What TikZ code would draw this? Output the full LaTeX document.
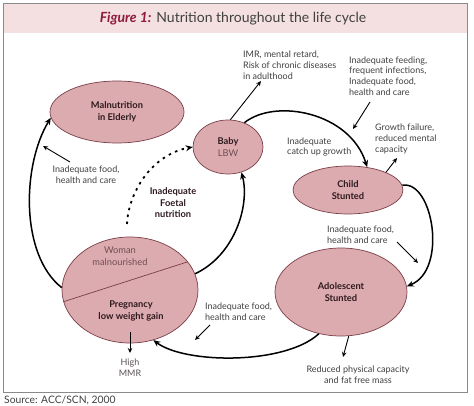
\documentclass[tikz,border=0pt]{standalone}
\usepackage{fontspec}
\setmainfont{Lato}
\usetikzlibrary{shapes.geometric,arrows.meta}
\definecolor{ellfill}{HTML}{DCABAF}
\definecolor{elldraw}{HTML}{7A3E48}
\definecolor{band}{HTML}{F4E0E1}
\definecolor{framec}{HTML}{8A8A8A}
\definecolor{titlered}{HTML}{8E1B3E}
\definecolor{txt}{HTML}{404040}
\definecolor{dark}{HTML}{2E1A1E}
\definecolor{soft}{HTML}{6E5054}
\definecolor{grey}{HTML}{5C5254}
\begin{document}
\begin{tikzpicture}[x=1pt,y=-1pt,
 ell/.style={ellipse, draw=elldraw, fill=ellfill, line width=0.7pt, inner sep=0pt, align=center,
   font=\fontsize{9.3}{11.5}\selectfont\bfseries, text=dark},
 lbl/.style={font=\fontsize{9}{10.8}\selectfont, text=txt, inner sep=0pt},
 flow/.style={line width=1.5pt, -{Stealth[length=7pt,width=6pt]}},
 note/.style={line width=0.9pt, -{Stealth[length=5pt,width=4.5pt]}}]
\useasboundingbox (0,0) rectangle (474,406);
\fill[band] (3.5,3.5) rectangle (467,33);
\draw[framec, line width=1pt] (3.5,3.5) rectangle (467,392);
\node[font=\fontsize{14}{16}\selectfont, text=txt] (title) at (233,19)
  {\textcolor{titlered}{\bfseries\itshape Figure 1:} Nutrition throughout the life cycle};
\node[font=\fontsize{10.3}{12}\selectfont, text=txt, anchor=west, inner sep=0pt] (src) at (4,400) {Source: ACC/SCN, 2000};

% ellipses
\node[ell, minimum width=134pt, minimum height=62pt] (e) at (117,112) {Malnutrition\\in Elderly};
\node[ell, minimum width=70pt, minimum height=54pt] (b) at (228,147) {Baby\\{\mdseries\color{soft}LBW}};
\node[ell, minimum width=110pt, minimum height=48pt] (c) at (348,190) {Child\\Stunted};
\node[ell, minimum width=132pt, minimum height=88pt] (a) at (341,292) {Adolescent\\Stunted};
\node[ell, minimum width=136pt, minimum height=106pt] (w) at (130,290) {};
\draw[elldraw, line width=0.7pt] (w.190) -- (w.26);
\node[font=\fontsize{9.3}{12}\selectfont, text=soft, align=center] (wm) at (120,256) {Woman\\malnourished};
\node[font=\fontsize{9.3}{12}\selectfont\bfseries, text=dark, align=center] (pg) at (131,311) {Pregnancy\\low weight gain};

% labels
\node[lbl, align=left, anchor=west] (imr) at (243,65) {IMR, mental retard,\\Risk of chronic diseases\\in adulthood};
\node[lbl, align=left, anchor=west] (feed) at (349,76) {Inadequate feeding,\\frequent infections,\\Inadequate food,\\health and care};
\node[lbl, align=left, anchor=west] (catch) at (287,147) {Inadequate\\catch up growth};
\node[lbl, align=left, anchor=west] (gf) at (375,139) {Growth failure,\\reduced mental\\capacity};
\node[lbl, align=left, anchor=west] (fa) at (327,235) {Inadequate food,\\health and care};
\node[lbl, align=left, anchor=west] (fw) at (205,312) {Inadequate food,\\health and care};
\node[lbl, align=center] (rp) at (358,375) {Reduced physical capacity\\and fat free mass};
\node[lbl, align=center] (fe) at (86,175) {Inadequate food,\\health and care};
\node[lbl, align=center, text=grey] (mmr) at (130,368) {High\\MMR};
\node[font=\fontsize{9.3}{11.5}\selectfont\bfseries, text=dark, align=center] (foet) at (173,203) {Inadequate\\Foetal\\nutrition};

% coordinates for free ends
\coordinate (imrE) at (261,81);
\coordinate (feedS) at (370,102);
\coordinate (feedE) at (353,129);
\coordinate (gfE) at (397,158);
\coordinate (faS) at (397,242);
\coordinate (faE) at (418,263);
\coordinate (fwS) at (210,325);
\coordinate (fwE) at (195,340);
\coordinate (rpE) at (343,357);
\coordinate (feS) at (70,162);
\coordinate (feE) at (43,146);
\coordinate (mmrS) at (130,332);
\coordinate (mmrE) at (130,353);
\coordinate (dotS) at (127,224);

% main cycle
\draw[flow] (w.178) .. controls (20,255) and (22,165) .. (e.185);
\draw[line width=1.8pt, dash pattern=on 2.5pt off 4.5pt, -{Stealth[length=7pt,width=6pt]}]
  (dotS) .. controls (128,195) and (150,155) .. (b.west);
\draw[flow] (w.14) .. controls (235,255) and (250,205) .. (b.-62);
\draw[flow] (b.56) .. controls (275,98) and (350,112) .. (c.50);
\draw[flow] (c.5) .. controls (433,180) and (448,270) .. (a.5);
\draw[flow] (a.242) .. controls (285,365) and (185,364) .. (w.295);

% notes
\draw[note] (b.85) -- (imrE);
\draw[note] (feedS) -- (feedE);
\draw[note] (c.25) -- (gfE);
\draw[note] (faS) -- (faE);
\draw[note] (fwS) -- (fwE);
\draw[note] (a.-80) -- (rpE);
\draw[note] (feS) -- (feE);
\draw[note] (mmrS) -- (mmrE);
\end{tikzpicture}
\end{document}
